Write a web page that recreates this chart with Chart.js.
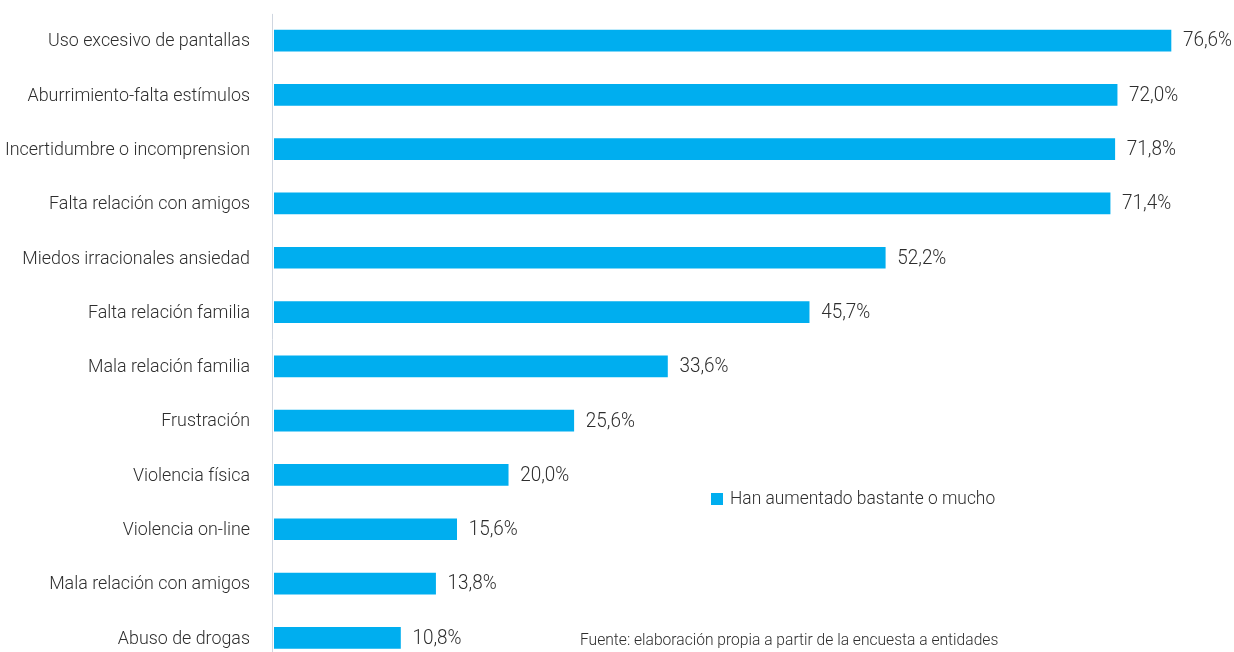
<!DOCTYPE html>
<html lang="es">
<head>
<meta charset="utf-8">
<script src="https://cdn.jsdelivr.net/npm/chart.js@4.4.1/dist/chart.umd.min.js"></script>
<style>
  html, body { margin: 0; padding: 0; background: #fff; overflow: hidden; }
  #wrap { position: relative; width: 1234px; height: 652px; overflow: hidden; }
  #chart-motivos { position: absolute; left: 0; top: 0; }
</style>
</head>
<body>
<div id="wrap">
  <canvas id="chart-motivos" width="1234" height="665"></canvas>
</div>
<script>
// --- Datos ---
const categorias = [
    'Uso excesivo de pantallas',
    'Aburrimiento-falta estímulos',
    'Incertidumbre o incomprension',
    'Falta relación con amigos',
    'Miedos irracionales ansiedad',
    'Falta relación familia',
    'Mala relación familia',
    'Frustración',
    'Violencia física',
    'Violencia on-line',
    'Mala relación con amigos',
    'Abuso de drogas'
];
const porcentajes = [76.6, 72.0, 71.8, 71.4, 52.2, 45.7, 33.6, 25.6, 20.0, 15.6, 13.8, 10.8];
const serieNombre = 'Han aumentado bastante o mucho';
const fuenteTexto = 'Fuente: elaboración propia a partir de la encuesta a entidades';

const FUENTE = "Roboto, 'Liberation Sans', sans-serif";
const AZUL = '#00aeef';
const TEXTO = '#2e2e2e';

const formatoPct = v => v.toFixed(1).replace('.', ',') + '%';

// texto estrecho (tipo condensada) escalando en horizontal
function textoEstrecho(ctx, txt, x, y, size, escala, align) {
    ctx.save();
    ctx.font = '300 ' + size + 'px ' + FUENTE;
    ctx.textAlign = align;
    ctx.translate(x, y);
    ctx.scale(escala, 1);
    ctx.fillText(txt, 0, 0);
    ctx.restore();
}

// Categorías, eje vertical, valores, leyenda y fuente
const extrasPlugin = {
    id: 'extras',
    afterDatasetsDraw(chart) {
        const { ctx, chartArea } = chart;
        const meta = chart.getDatasetMeta(0);
        ctx.save();

        // eje vertical
        ctx.strokeStyle = '#cfd6e0';
        ctx.lineWidth = 1;
        ctx.beginPath();
        ctx.moveTo(chartArea.left - 1.5, chartArea.top + 0.5);
        ctx.lineTo(chartArea.left - 1.5, chartArea.bottom);
        ctx.stroke();

        ctx.fillStyle = TEXTO;
        ctx.textBaseline = 'middle';
        meta.data.forEach((bar, i) => {
            textoEstrecho(ctx, categorias[i], chartArea.left - 24, bar.y + 1, 19, 0.94, 'right');
            textoEstrecho(ctx, formatoPct(porcentajes[i]), bar.x + 12, bar.y + 1, 19.5, 0.97, 'left');
        });

        // leyenda
        ctx.fillStyle = AZUL;
        ctx.fillRect(711, 493, 12, 12);
        ctx.fillStyle = TEXTO;
        textoEstrecho(ctx, serieNombre, 730, 499.5, 18.5, 0.94, 'left');

        // fuente
        ctx.textBaseline = 'alphabetic';
        textoEstrecho(ctx, fuenteTexto, 580, 645, 17, 0.918, 'left');
        ctx.restore();
    }
};

const ctx = document.getElementById('chart-motivos').getContext('2d');
new Chart(ctx, {
    type: 'bar',
    data: {
        labels: categorias,
        datasets: [{
            label: serieNombre,
            data: porcentajes,
            backgroundColor: AZUL,
            borderWidth: 0,
            barThickness: 21
        }]
    },
    options: {
        indexAxis: 'y',
        responsive: false,
        animation: false,
        layout: { padding: { top: 13.4, right: 23.2, bottom: 0, left: 0 } },
        plugins: {
            legend: { display: false },
            tooltip: { enabled: false }
        },
        scales: {
            x: {
                display: false,
                min: 0,
                max: 80
            },
            y: {
                afterFit(scale) { scale.width = 274; },
                grid: { display: false, drawTicks: false },
                border: { display: false },
                ticks: { display: false }
            }
        }
    },
    plugins: [extrasPlugin]
});
</script>
</body>
</html>
